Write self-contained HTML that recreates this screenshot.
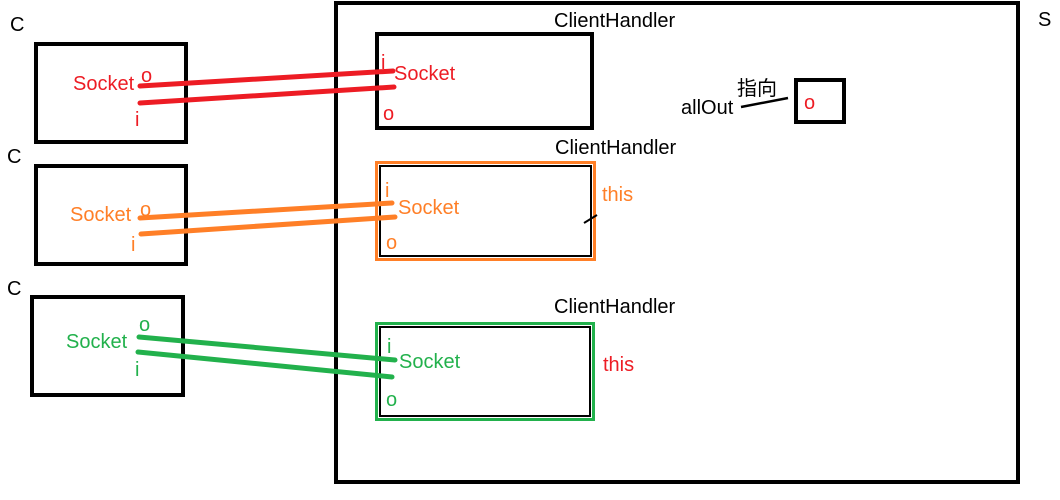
<!DOCTYPE html>
<html><head><style>
body{margin:0;background:#fff}
svg text{font-family:"Liberation Sans","Noto Sans CJK SC",sans-serif;font-size:20px}
</style></head><body>
<svg width="1060" height="495" xmlns="http://www.w3.org/2000/svg">
<rect width="1060" height="495" fill="#fff"/>
<g fill="none" stroke="#000" stroke-width="4">
<rect x="36" y="44" width="150" height="98"/>
<rect x="36" y="166" width="150" height="98"/>
<rect x="32" y="297" width="151" height="98"/>
<rect x="336" y="3" width="682" height="479"/>
<rect x="377" y="34" width="215" height="94"/>
<rect x="796" y="80" width="48" height="42"/>
</g>
<rect x="376.5" y="162.5" width="218" height="97" fill="none" stroke="#ff7f27" stroke-width="3"/>
<rect x="380" y="166" width="211" height="90" fill="none" stroke="#000" stroke-width="2"/>
<rect x="376.5" y="323.5" width="217" height="96" fill="none" stroke="#22b14c" stroke-width="3"/>
<rect x="380" y="327" width="210" height="89" fill="none" stroke="#000" stroke-width="2"/>
<text x="10" y="31">C</text><text x="7" y="163">C</text><text x="7" y="295">C</text>
<text x="1038" y="26">S</text>
<text x="554" y="27">ClientHandler</text>
<text x="555" y="154">ClientHandler</text>
<text x="554" y="313">ClientHandler</text>
<g fill="#ed1c24">
<text x="73" y="90">Socket</text><text x="141" y="82">o</text><text x="135" y="126">i</text>
<text x="381" y="69">i</text><text x="394" y="80">Socket</text><text x="383" y="120">o</text>
<text x="804" y="109">o</text>
<text x="603" y="371">this</text>
</g>
<g fill="#ff7f27">
<text x="70" y="221">Socket</text><text x="140" y="216">o</text><text x="131" y="251">i</text>
<text x="385" y="197">i</text><text x="398" y="214">Socket</text><text x="386" y="249">o</text>
<text x="602" y="201">this</text>
</g>
<g fill="#22b14c">
<text x="66" y="348">Socket</text><text x="139" y="331">o</text><text x="135" y="376">i</text>
<text x="387" y="353">i</text><text x="399" y="368">Socket</text><text x="386" y="406">o</text>
</g>
<text x="681" y="114">allOut</text>
<text x="737" y="95">指向</text>
<line x1="741" y1="107" x2="788" y2="98" stroke="#000" stroke-width="2.5"/>
<line x1="584" y1="223" x2="597" y2="215" stroke="#000" stroke-width="2"/>
<g stroke-width="5" stroke-linecap="round">
<line x1="140" y1="86" x2="393" y2="71" stroke="#ed1c24"/>
<line x1="140" y1="103" x2="394" y2="87" stroke="#ed1c24"/>
<line x1="140" y1="218" x2="392" y2="203" stroke="#ff7f27"/>
<line x1="141" y1="234" x2="395" y2="217" stroke="#ff7f27"/>
<line x1="139" y1="337" x2="395" y2="360" stroke="#22b14c"/>
<line x1="138" y1="352" x2="392" y2="377" stroke="#22b14c"/>
</g>
</svg>
</body></html>
